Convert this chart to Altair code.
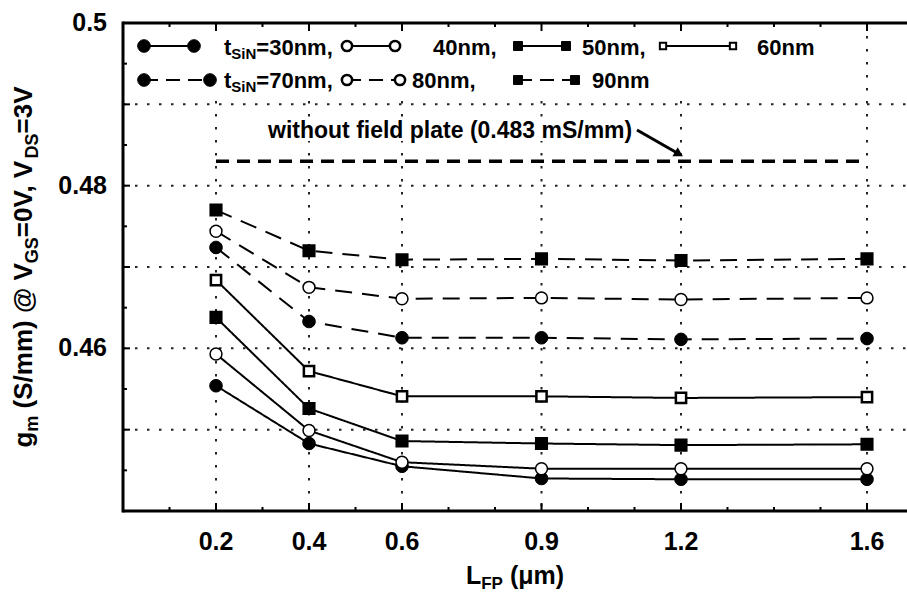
import altair as alt
import pandas as pd

# ---------------- data ----------------
L_FP = [0.2, 0.4, 0.6, 0.9, 1.2, 1.6]
series_names = ["30nm", "40nm", "50nm", "60nm", "70nm", "80nm", "90nm"]
gm_30 = [0.4554, 0.4483, 0.4455, 0.4440, 0.4439, 0.4439]
gm_40 = [0.4593, 0.4499, 0.4460, 0.4452, 0.4452, 0.4452]
gm_50 = [0.4638, 0.4526, 0.4486, 0.4483, 0.4481, 0.4482]
gm_60 = [0.4684, 0.4572, 0.4541, 0.4541, 0.4539, 0.4540]
gm_70 = [0.4724, 0.4633, 0.4613, 0.4613, 0.4611, 0.4612]
gm_80 = [0.4744, 0.4675, 0.4661, 0.4662, 0.4660, 0.4662]
gm_90 = [0.4770, 0.4720, 0.4709, 0.4710, 0.4708, 0.4710]
gm_without_fp = 0.483
no_fp_x = [0.2, 1.6]

x_tick_labels = [0.2, 0.4, 0.6, 0.9, 1.2, 1.6]
x_minor_ticks = [0.1, 0.3, 0.5, 0.7, 0.8, 1.0, 1.1, 1.3, 1.4, 1.5]
y_grid = [0.45, 0.46, 0.47, 0.48, 0.49]
y_minor_ticks = [0.445, 0.455, 0.465, 0.475, 0.485, 0.495]
y_label_values = [0.46, 0.48, 0.50]
y_label_texts = ["0.46", "0.48", "0.5"]

# ---------------- style / layout ----------------
FONT = "Liberation Sans"
X0, Y0 = 123, 23          # plot origin in page pixels
W, H = 784, 488           # plot size
PX_PER_UNIT = 465.0
XMAX = W / PX_PER_UNIT
YMIN, YMAX = 0.44, 0.50

series_style = {
    "30nm": ("fc", "solid"), "40nm": ("oc", "solid"), "50nm": ("fs", "solid"),
    "60nm": ("os", "solid"), "70nm": ("fc", "dashed"), "80nm": ("oc", "dashed"),
    "90nm": ("fs", "dashed"),
}
KIND = {
    "fc": dict(shape="circle", fill="black", size=160, sw=1.0),
    "oc": dict(shape="circle", fill="white", size=105, sw=2.5),
    "fs": dict(shape="square", fill="black", size=80, sw=1.0),
    "os": dict(shape="square", fill="white", size=40, sw=2.0),
}
kinds = ["fc", "oc", "fs", "os"]
DASH_SERIES = [17, 10]

series_values = [gm_30, gm_40, gm_50, gm_60, gm_70, gm_80, gm_90]
rows = []
for name, vals in zip(series_names, series_values):
    k, st = series_style[name]
    for xv, yv in zip(L_FP, vals):
        rows.append({"L": xv, "gm": yv, "series": name, "kind": k, "style": st})
df = pd.DataFrame(rows)

xs = alt.Scale(domain=[0, XMAX], nice=False, zero=False)
ys = alt.Scale(domain=[YMIN, YMAX], nice=False, zero=False)
dummy = pd.DataFrame({"a": [0]})

layers = []

# gridlines
layers.append(alt.Chart(pd.DataFrame({"x": x_tick_labels})).mark_rule(
    color="#222", strokeWidth=2, strokeDash=[2.5, 10.5]).encode(
    x=alt.X("x:Q", scale=xs, axis=None), y=alt.value(0), y2=alt.value(H)))
layers.append(alt.Chart(pd.DataFrame({"y": y_grid})).mark_rule(
    color="#222", strokeWidth=2, strokeDash=[2.5, 9.5]).encode(
    y=alt.Y("y:Q", scale=ys, axis=None), x=alt.value(0), x2=alt.value(W)))

# white boxes behind legend and annotation
layers.append(alt.Chart(dummy).mark_rect(color="white").encode(
    x=alt.value(0), x2=alt.value(707), y=alt.value(0), y2=alt.value(72)))
layers.append(alt.Chart(dummy).mark_rect(color="white").encode(
    x=alt.value(139), x2=alt.value(513), y=alt.value(94), y2=alt.value(118)))

# without field plate line
layers.append(alt.Chart(pd.DataFrame({"x": [no_fp_x[0]], "x2": [no_fp_x[1]], "y": [gm_without_fp]}))
              .mark_rule(color="black", strokeWidth=3.5, strokeDash=[13, 8]).encode(
    x=alt.X("x:Q", scale=xs, axis=None), x2="x2:Q", y=alt.Y("y:Q", scale=ys, axis=None)))

# data lines
layers.append(alt.Chart(df).mark_line(color="black", strokeWidth=2).encode(
    x=alt.X("L:Q", scale=xs, axis=None),
    y=alt.Y("gm:Q", scale=ys, axis=None),
    detail="series:N",
    strokeDash=alt.StrokeDash("style:N", scale=alt.Scale(domain=["solid", "dashed"],
                                                         range=[[1, 0], DASH_SERIES]), legend=None)))
# data points
layers.append(alt.Chart(df).mark_point(filled=False, stroke="black", opacity=1).encode(
    x=alt.X("L:Q", scale=xs, axis=None),
    y=alt.Y("gm:Q", scale=ys, axis=None),
    shape=alt.Shape("kind:N", scale=alt.Scale(domain=kinds, range=[KIND[k]["shape"] for k in kinds]), legend=None),
    fill=alt.Fill("kind:N", scale=alt.Scale(domain=kinds, range=[KIND[k]["fill"] for k in kinds]), legend=None),
    size=alt.Size("kind:N", scale=alt.Scale(domain=kinds, range=[KIND[k]["size"] for k in kinds]), legend=None),
    strokeWidth=alt.StrokeWidth("kind:N", scale=alt.Scale(domain=kinds, range=[KIND[k]["sw"] for k in kinds]), legend=None),
))

# frame
for enc in [dict(x=alt.value(0), x2=alt.value(W + 2), y=alt.value(0)),
            dict(x=alt.value(0), x2=alt.value(W + 2), y=alt.value(H)),
            dict(x=alt.value(0), y=alt.value(-1.5), y2=alt.value(H + 1.5))]:
    layers.append(alt.Chart(dummy).mark_rule(color="black", strokeWidth=3).encode(**enc))

# inward ticks
for vals, ln in [(x_tick_labels, 8), (x_minor_ticks, 4)]:
    d = pd.DataFrame({"x": vals})
    layers.append(alt.Chart(d).mark_rule(color="black", strokeWidth=2).encode(
        x=alt.X("x:Q", scale=xs, axis=None), y=alt.value(H), y2=alt.value(H - ln)))
    layers.append(alt.Chart(d).mark_rule(color="black", strokeWidth=2).encode(
        x=alt.X("x:Q", scale=xs, axis=None), y=alt.value(0), y2=alt.value(ln)))
for vals, ln in [(y_grid + [0.5], 7), (y_minor_ticks, 4)]:
    d = pd.DataFrame({"y": vals})
    layers.append(alt.Chart(d).mark_rule(color="black", strokeWidth=2).encode(
        y=alt.Y("y:Q", scale=ys, axis=None), x=alt.value(0), x2=alt.value(ln)))

# tick labels
layers.append(alt.Chart(pd.DataFrame({"x": x_tick_labels, "t": [str(v) for v in x_tick_labels]}))
              .mark_text(font=FONT, fontWeight="bold", fontSize=25, align="center", baseline="alphabetic")
              .encode(x=alt.X("x:Q", scale=xs, axis=None), y=alt.value(527), text="t:N"))
layers.append(alt.Chart(pd.DataFrame({"y": y_label_values, "t": y_label_texts}))
              .mark_text(font=FONT, fontWeight="bold", fontSize=25, align="right", baseline="middle")
              .encode(y=alt.Y("y:Q", scale=ys, axis=None), x=alt.value(-16), text="t:N"))

# rich text helper (sub-scripts)
ARIAL_BOLD = {' ': 278, '(': 333, ')': 333, ',': 278, '.': 278, '/': 278, '=': 584, '@': 975,
              'D': 722, 'F': 611, 'G': 778, 'L': 611, 'N': 722, 'P': 667, 'S': 667, 'V': 667,
              'a': 556, 'd': 611, 'e': 556, 'f': 333, 'g': 611, 'h': 611, 'i': 278, 'l': 278,
              'm': 889, 'n': 611, 'o': 611, 'p': 611, 't': 333, 'u': 611, 'w': 778, 'μ': 611}


def tw(s, fs):
    return sum(ARIAL_BOLD.get(c, 556) for c in s) * fs / 1000.0


def rich(pieces, x, y, angle=0):
    out = []
    cur = 0.0
    for txt, fs, shift in pieces:
        lead = len(txt) - len(txt.lstrip(" "))
        cur += tw(" " * lead, fs)
        body = txt.lstrip(" ")
        if angle == 0:
            px, py = x + cur, y + shift
        else:
            px, py = x + shift, y - cur
        out.append(alt.Chart(dummy).mark_text(
            font=FONT, fontWeight="bold", fontSize=fs, align="left", baseline="alphabetic",
            angle=angle, color="black").encode(x=alt.value(px), y=alt.value(py), text=alt.value(body)))
        cur += tw(body, fs)
    return out


# axis titles
ytitle = [("g", 26, 0), ("m", 18, 6), (" (S/mm) @ V", 26, 0), ("GS", 18, 6),
          ("=0V, V", 26, 0), ("DS", 18, 6), ("=3V", 26, 0)]
ylen = sum(tw(t, f) for t, f, _ in ytitle)
layers += rich(ytitle, 32 - X0, H / 2 + ylen / 2, angle=270)
xtitle = [("L", 25, 0), ("FP", 17, 5), (" (μm)", 25, 0)]
xlen = sum(tw(t, f) for t, f, _ in xtitle)
layers += rich(xtitle, W / 2 - xlen / 2, 561)

# annotation
layers += rich([("without field plate (0.483 mS/mm)", 23, 0)], 145, 115)
layers.append(alt.Chart(dummy).mark_rule(color="black", strokeWidth=3).encode(
    x=alt.value(514), y=alt.value(107), x2=alt.value(556), y2=alt.value(131)))
layers.append(alt.Chart(dummy).mark_point(shape="triangle-right", filled=True, color="black",
                                          size=110, angle=30, opacity=1).encode(
    x=alt.value(556), y=alt.value(131)))

# legend
legend_entries = [
    (23, "fc", "solid", 21, 71), (23, "oc", "solid", 224, 272),
    (23, "fs", "solid", 395, 443), (23, "os", "solid", 540, 610),
    (57, "fc", "dashed", 21, 87), (57, "oc", "dashed", 224, 277),
    (57, "fs", "dashed", 395, 452),
]
for yy, k, st, x1, x2 in legend_entries:
    layers.append(alt.Chart(dummy).mark_rule(
        color="black", strokeWidth=2, strokeDash=([1, 0] if st == "solid" else [14, 8])).encode(
        x=alt.value(x1), x2=alt.value(x2), y=alt.value(yy)))
    for xx in (x1, x2):
        p = KIND[k]
        layers.append(alt.Chart(dummy).mark_point(
            shape=p["shape"], fill=p["fill"], stroke="black", strokeWidth=p["sw"],
            size=p["size"], opacity=1).encode(x=alt.value(xx), y=alt.value(yy)))

layers += rich([("t", 22, 0), ("SiN", 15, 4), ("=30nm,", 22, 0)], 101, 32)
layers += rich([("40nm,", 22, 0)], 310, 32)
layers += rich([("50nm,", 22, 0)], 459, 32)
layers += rich([("60nm", 22, 0)], 634, 32)
layers += rich([("t", 22, 0), ("SiN", 15, 4), ("=70nm,", 22, 0)], 101, 65)
layers += rich([("80nm,", 22, 0)], 289, 65)
layers += rich([("90nm", 22, 0)], 469, 65)

chart = alt.layer(*layers).properties(
    width=W, height=H,
    padding={"left": X0, "top": Y0, "right": 0, "bottom": 594 - Y0 - H},
    autosize=alt.AutoSizeParams(type="none"),
).configure_view(strokeWidth=0).configure(background="white")

chart.save("out.html", embed_options={"renderer": "svg", "actions": False})
